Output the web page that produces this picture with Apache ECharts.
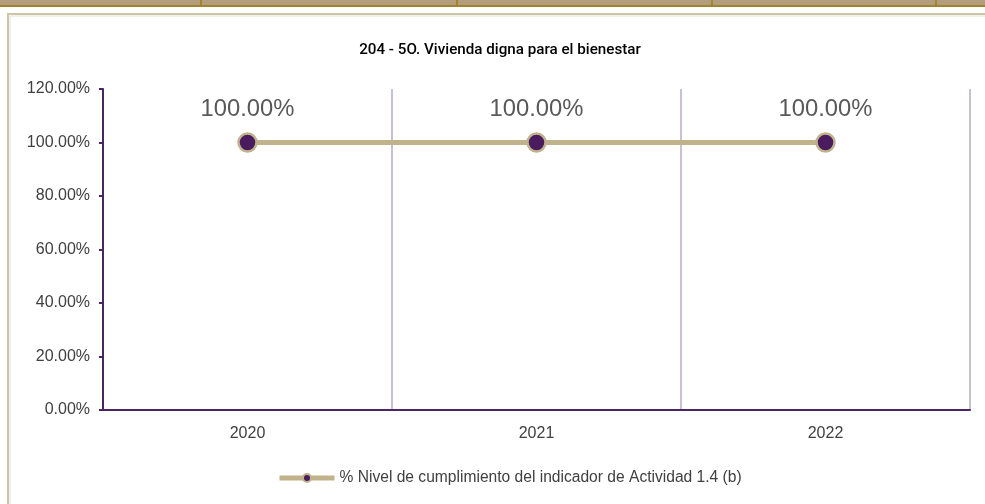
<!DOCTYPE html>
<html><head><meta charset="utf-8">
<script src="https://cdn.jsdelivr.net/npm/echarts@6/dist/echarts.min.js"></script>
<style>html,body{margin:0;padding:0;background:#fff}#c{width:985px;height:504px}</style>
</head><body><div id="c"></div>
<script>
const titleText = '204 - 5O. Vivienda digna para el bienestar';
const categories = ['2020', '2021', '2022'];
const seriesName = '% Nivel de cumplimiento del indicador de Actividad 1.4 (b)';
const values = [100, 100, 100];
const yTicks = { min: 0, max: 120, interval: 20 };

const chart = echarts.init(document.getElementById('c'), null, { renderer: 'canvas' });
const dividers = [201, 457, 712, 936];
const graphics = [
  { type: 'rect', shape: { x: 0, y: 0, width: 985, height: 5 }, style: { fill: '#b49d7d' }, z: 0 },
  { type: 'rect', shape: { x: 0, y: 5, width: 985, height: 2 }, style: { fill: '#a0842b' }, z: 0 },
  { type: 'rect', shape: { x: 8, y: 14, width: 990, height: 500 }, style: { fill: 'none', stroke: '#cfc4a8', lineWidth: 2 }, z: 0 },
  { type: 'rect', shape: { x: 10, y: 16, width: 990, height: 500 }, style: { fill: 'none', stroke: '#e6e0d0', lineWidth: 1 }, z: 0 }
];
dividers.forEach(x => graphics.push({ type: 'rect', shape: { x: x - 1, y: 0, width: 2, height: 6 }, style: { fill: '#a0842b' }, z: 1 }));

chart.setOption({
  animation: false,
  backgroundColor: '#fff',
  graphic: graphics,
  title: {
    text: titleText, left: 495, top: 38, textAlign: 'center',
    textStyle: { fontFamily: 'Roboto', fontWeight: 500, fontSize: 15.2, color: '#000' }
  },
  legend: {
    data: [seriesName], left: 272, top: 465,
    itemWidth: 55, itemHeight: 10, itemGap: 4,
    lineStyle: { width: 5 },
    textStyle: { fontFamily: 'Liberation Sans', fontSize: 15.6, color: '#404040' }
  },
  grid: { left: 103, right: 15, top: 89, bottom: 94, containLabel: false },
  xAxis: {
    type: 'category', data: categories, boundaryGap: true,
    axisLine: { lineStyle: { color: '#4b2563', width: 2 } },
    axisTick: { show: false },
    axisLabel: { fontFamily: 'Liberation Sans', fontSize: 16, color: '#404040', margin: 16 },
    splitLine: { show: true, lineStyle: { color: '#c9bfdd', width: 2 } }
  },
  yAxis: {
    type: 'value', min: yTicks.min, max: yTicks.max, interval: yTicks.interval,
    axisLine: { show: true, lineStyle: { color: '#4b2563', width: 2 } },
    axisTick: { show: true, length: 4, lineStyle: { color: '#4b2563', width: 2 } },
    axisLabel: { fontFamily: 'Liberation Sans', fontSize: 16, color: '#404040', margin: 13,
      formatter: v => v.toFixed(2) + '%' },
    splitLine: { show: false }
  },
  series: [{
    name: seriesName, type: 'line', data: values,
    symbol: 'circle', symbolSize: 18,
    lineStyle: { color: '#c0b28b', width: 5 },
    itemStyle: { color: '#4a1c5f', borderColor: '#c0b28b', borderWidth: 2.5 },
    label: { show: true, position: 'top', distance: 11,
      formatter: p => p.value.toFixed(2) + '%',
      fontFamily: 'Liberation Sans', fontSize: 23.8, color: '#595959' }
  }]
});
</script></body></html>
